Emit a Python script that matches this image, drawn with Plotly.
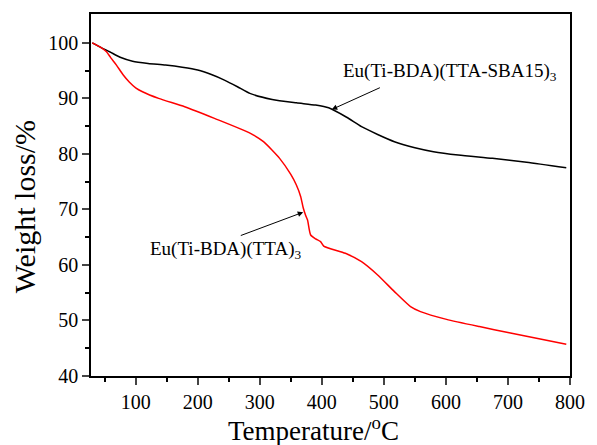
import plotly.graph_objects as go

# Eu(Ti-BDA)(TTA-SBA15)3  (black)
t_black = [30, 45, 58, 75, 95, 120, 148, 175, 200, 222, 243, 264, 284, 320, 359, 390, 411, 440, 464, 490, 517, 550, 580, 620, 675, 730, 794]
w_black = [100, 99.1, 98.4, 97.4, 96.7, 96.3, 96.0, 95.6, 95.1, 94.3, 93.3, 92.1, 90.9, 89.8, 89.2, 88.8, 88.3, 86.6, 84.9, 83.5, 82.2, 81.1, 80.4, 79.8, 79.2, 78.5, 77.5]

# Eu(Ti-BDA)(TTA)3  (red)
t_red = [30, 45, 53, 60, 69, 80, 90, 100, 111, 137, 179, 227, 285, 306, 332, 350, 359, 366, 370, 374, 377, 382, 390, 398, 403, 438, 464, 490, 517, 543, 559, 601, 654, 702, 750, 794]
w_red = [100, 99.1, 98.4, 97.3, 96.0, 94.2, 92.9, 91.9, 91.2, 90.0, 88.5, 86.4, 83.7, 82.2, 79.2, 76.3, 74.4, 72.3, 70.3, 68.9, 68.1, 65.4, 64.7, 64.2, 63.4, 62.1, 60.6, 58.2, 55.2, 52.5, 51.6, 50.2, 48.9, 47.8, 46.7, 45.7]

x_ticks = [100, 200, 300, 400, 500, 600, 700, 800]
y_ticks = [40, 50, 60, 70, 80, 90, 100]

label_black = "Eu(Ti-BDA)(TTA-SBA15)<sub>3</sub>"
label_red = "Eu(Ti-BDA)(TTA)<sub>3</sub>"
x_title = "Temperature/<sup>o</sup>C"
y_title = "Weight loss/%"

font_family = "Liberation Serif, Times New Roman, serif"

fig = go.Figure()
fig.add_trace(go.Scatter(x=t_black, y=w_black, mode="lines", line=dict(color="black", width=1.5, shape="spline", smoothing=0.6), showlegend=False))
fig.add_trace(go.Scatter(x=t_red, y=w_red, mode="lines", line=dict(color="#ff0000", width=1.5, shape="spline", smoothing=0.6), showlegend=False))

# arrows (data coordinates)
fig.add_annotation(x=416, y=88.0, ax=496, ay=92.05, xref="x", yref="y", axref="x", ayref="y",
                   text="", showarrow=True, arrowhead=2, arrowsize=1.1, arrowwidth=1, arrowcolor="black")
fig.add_annotation(x=370, y=69.5, ax=267, ay=65.2, xref="x", yref="y", axref="x", ayref="y",
                   text="", showarrow=True, arrowhead=2, arrowsize=1.1, arrowwidth=1, arrowcolor="black")
# labels
fig.add_annotation(x=431, y=94.75, xref="x", yref="y", text=label_black, showarrow=False,
                   xanchor="left", yanchor="middle", font=dict(family=font_family, size=19, color="black"))
fig.add_annotation(x=120, y=62.7, xref="x", yref="y", text=label_red, showarrow=False,
                   xanchor="left", yanchor="middle", font=dict(family=font_family, size=19, color="black"))
# axis titles
fig.add_annotation(x=0.464, y=-0.146, xref="paper", yref="paper", text=x_title, showarrow=False,
                   xanchor="center", yanchor="middle", font=dict(family=font_family, size=27, color="black"))
fig.add_annotation(x=-0.137, y=0.467, xref="paper", yref="paper", text=y_title, showarrow=False, textangle=-90,
                   xanchor="center", yanchor="middle", font=dict(family=font_family, size=30, color="black"))

fig.update_layout(
    width=597, height=445,
    margin=dict(l=91, r=18, t=14, b=69),
    paper_bgcolor="white", plot_bgcolor="white",
    font=dict(family=font_family, color="black"),
)
fig.update_xaxes(
    range=[28, 800], tickvals=x_ticks, ticks="outside", ticklen=7, tickwidth=1.5,
    showline=True, linewidth=1.5, linecolor="black", mirror=True, showgrid=False, zeroline=False,
    tickfont=dict(size=20),
    minor=dict(tickvals=[50, 150, 250, 350, 450, 550, 650, 750], ticks="outside", ticklen=4, tickwidth=1.5, tickcolor="black"),
)
fig.update_yaxes(
    range=[40, 105.2], tickvals=y_ticks, ticks="outside", ticklen=7, tickwidth=1.5,
    showline=True, linewidth=1.5, linecolor="black", mirror=True, showgrid=False, zeroline=False,
    tickfont=dict(size=20),
    minor=dict(tickvals=[45, 55, 65, 75, 85, 95], ticks="outside", ticklen=4, tickwidth=1.5, tickcolor="black"),
)

fig.write_html("out.html")
